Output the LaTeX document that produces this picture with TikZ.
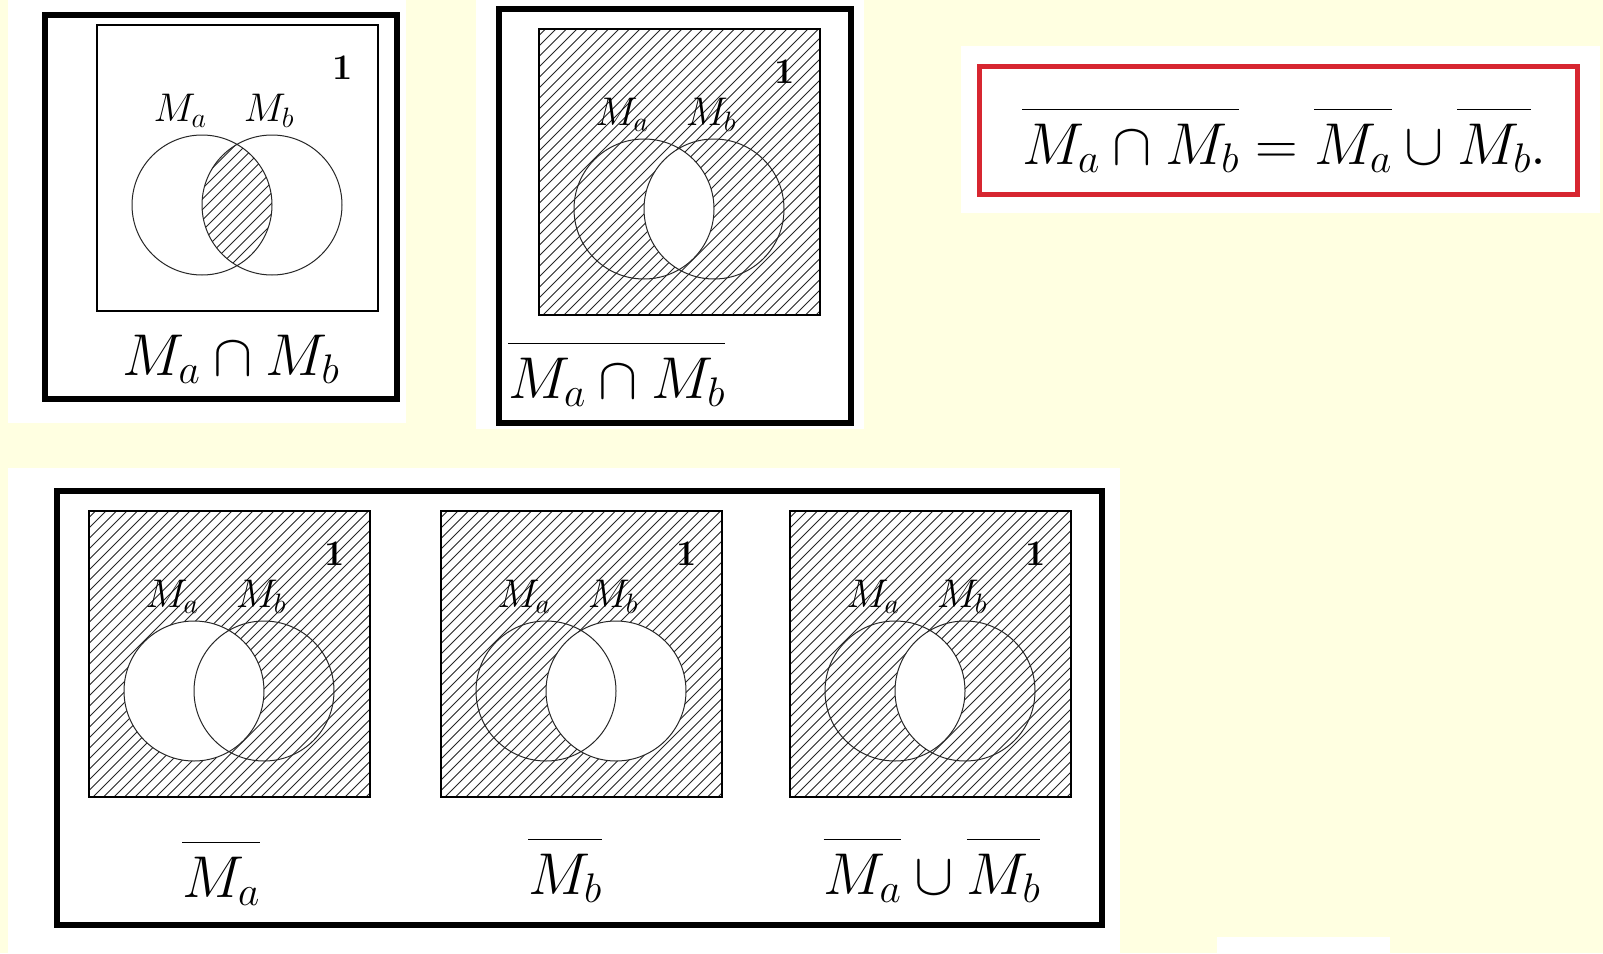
\documentclass[tikz,border=0pt]{standalone}
\usepackage{fix-cm}

\tikzset{
  frame/.style={line width=6pt},
  setbox/.style={line width=1.4pt},
  circ/.style={line width=1pt, draw=black!85},
  hatchline/.style={line width=0.95pt, black!85},
  setlabel/.style={font=\fontsize{40}{40}\selectfont, inner sep=0pt},
  unitlabel/.style={font=\fontsize{36}{36}\selectfont\bfseries, inner sep=0pt},
  biglabel/.style={font=\fontsize{59}{59}\selectfont, inner sep=0pt}
}

% bar set high above the letters, as in the slide
\newcommand{\tallbar}[1]{\overline{\rule{0pt}{0.9em}#1}}

% diagonal hatching of one 281x286 universe (local coordinates)
\newcommand{\hatchfill}{%
  \foreach \k in {0,10.5,...,580}
    \draw[hatchline] (\k-290,286) -- ++(300,-300);}

% one Venn panel: #1,#2 top left corner, #3 name prefix, #4 shading
\newcommand{\vennpanel}[4]{%
  \begin{scope}[shift={(#1,#2)}]
    \coordinate (#3A) at (105,180);
    \coordinate (#3B) at (175,180);
    #4
    \draw[circ] (#3A) circle (70) (#3B) circle (70);
    \draw[setbox] (0,0) rectangle (281,286);
    \node[setlabel] (#3la) at (83,86) {$M_a$};
    \node[setlabel] (#3lb) at (172,86) {$M_b$};
    \node[unitlabel] (#3one) at (246,43) {1};
  \end{scope}}

\begin{document}
\begin{tikzpicture}[x=1pt,y=-1pt]
    \definecolor{paperColour}{HTML}{FFFFE1}
    \definecolor{boxRed}{HTML}{D72630}

    % Slide background and white patches
    \fill[paperColour] (0,0) rectangle (1603,953);
    \useasboundingbox (0,0) rectangle (1603,953);
    \fill[white] (8,0) rectangle (406,423);
    \fill[white] (476,0) rectangle (864,429);
    \fill[white] (961,46) rectangle (1600,213);
    \fill[white] (8,468) rectangle (1120,953);
    \fill[white] (1217,937) rectangle (1390,953);

    % Intersection
    \vennpanel{97}{25}{p}{%
      \begin{scope}
        \clip (pA) circle (70);
        \clip (pB) circle (70);
        \hatchfill
      \end{scope}}
    \draw[frame] (45,15) rectangle (397,399);
    \node[biglabel, anchor=base] (capLabel) at (231,375) {$M_a\cap M_b$};

    % Complement of the intersection
    \vennpanel{539}{29}{q}{%
      \begin{scope}
        \clip (0,0) rectangle (281,286);
        \hatchfill
      \end{scope}
      \begin{scope}
        \clip (qA) circle (70);
        \fill[white] (qB) circle (70);
      \end{scope}}
    \draw[frame] (499,9) rectangle (851,423);
    \node[biglabel, anchor=base west] (notCapLabel) at (508,398) {$\tallbar{M_a\cap M_b}$};

    % De Morgan law
    \draw[boxRed, line width=5pt] (979,66) rectangle (1577,194);
    \node[biglabel, anchor=base west] (law) at (1022,164)
      {$\tallbar{M_a\cap M_b}=\tallbar{M_a}\cup\tallbar{M_b}.$};

    % Complements and their union
    \vennpanel{89}{511}{r}{%
      \begin{scope}
        \clip (0,0) rectangle (281,286);
        \hatchfill
      \end{scope}
      \fill[white] (rA) circle (70);}
    \vennpanel{441}{511}{s}{%
      \begin{scope}
        \clip (0,0) rectangle (281,286);
        \hatchfill
      \end{scope}
      \fill[white] (sB) circle (70);}
    \vennpanel{790}{511}{t}{%
      \begin{scope}
        \clip (0,0) rectangle (281,286);
        \hatchfill
      \end{scope}
      \begin{scope}
        \clip (tA) circle (70);
        \fill[white] (tB) circle (70);
      \end{scope}}
    \draw[frame] (57,491) rectangle (1102,925);
    \node[biglabel, anchor=base] (notA) at (221,897) {$\tallbar{M_a}$};
    \node[biglabel, anchor=base] (notB) at (565,894) {$\tallbar{M_b}$};
    \node[biglabel, anchor=base] (cupLabel) at (932,894) {$\tallbar{M_a}\cup\tallbar{M_b}$};

\end{tikzpicture}
\end{document}
